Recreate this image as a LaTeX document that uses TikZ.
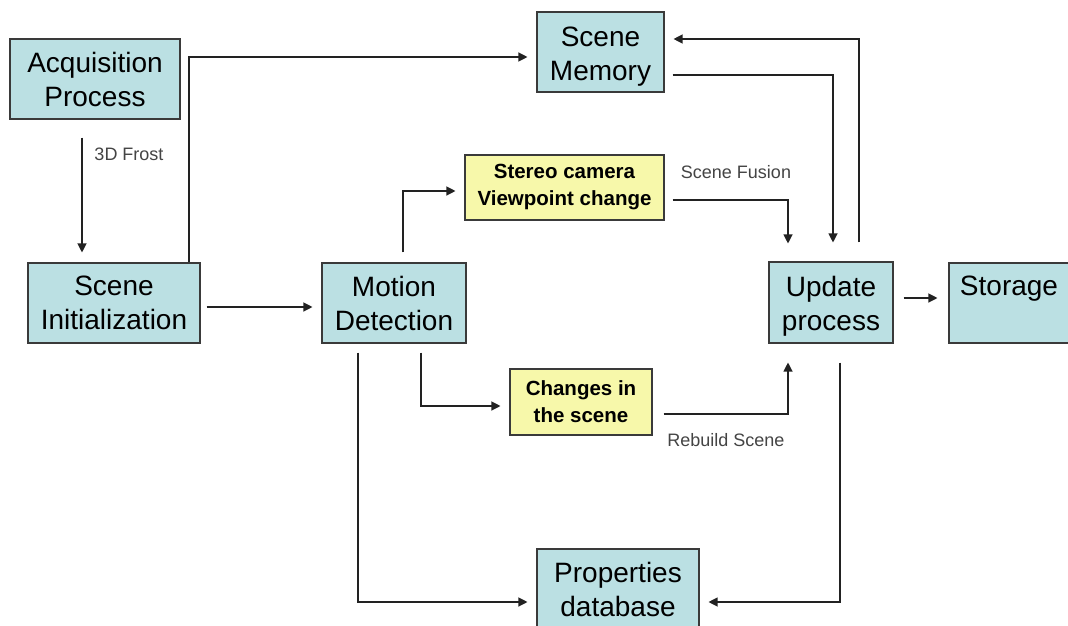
\documentclass[tikz,border=0pt]{standalone}
\usepackage{fontspec}
\setmainfont{Liberation Sans}
\usetikzlibrary{arrows.meta,calc}
\definecolor{boxblue}{HTML}{BBE0E3}
\definecolor{boxyellow}{HTML}{F7F8AA}
\definecolor{edgegray}{HTML}{3A3A3A}
\definecolor{linegray}{HTML}{222222}
\definecolor{labelgray}{HTML}{444444}
\tikzset{
  procbox/.style={draw=edgegray, fill=boxblue, line width=1.1pt, inner sep=0pt,
    align=center, font=\fontsize{28}{34}\selectfont},
  notebox/.style={draw=edgegray, fill=boxyellow, line width=1.1pt, inner sep=0pt,
    align=center, font=\bfseries\fontsize{20.5}{27}\selectfont},
  flowlabel/.style={text=labelgray, inner sep=0pt, font=\fontsize{18}{22}\selectfont},
  arr/.style={draw=linegray, line width=1.2pt, -{Triangle[length=9pt,width=9pt]}},
  lowtext/.style={text height=62pt}
}
\begin{document}
\begin{tikzpicture}[x=1pt,y=-1pt]
\useasboundingbox (0,0) rectangle (1068,626);
\fill[white] (0,0) rectangle (1068,626);

% process boxes
\node[procbox, minimum width=170pt, minimum height=80pt] (acq) at (95,79) {Acquisition\\Process};
\node[procbox, minimum width=172pt, minimum height=80pt] (init) at (114,303) {Scene\\Initialization};
\node[procbox, minimum width=144pt, minimum height=80pt] (motion) at (394,303) {Motion\\Detection};
\node[procbox, lowtext, minimum width=127pt, minimum height=80pt] (mem) at (600.5,52) {Scene\\Memory};
\node[procbox, lowtext, minimum width=124pt, minimum height=81pt] (update) at (831,302.5) {Update\\process};
\node[procbox, minimum width=120pt, minimum height=80pt] (storage) at (1009,303) {Storage\\\mbox{}};
\node[procbox, minimum width=162pt, minimum height=80pt] (props) at (618,589) {Properties\\database};

% event boxes
\node[notebox, minimum width=199pt, minimum height=65pt] (stereo) at (564.5,187.5) {Stereo camera\\Viewpoint change};
\node[notebox, minimum width=142pt, minimum height=66pt] (changes) at (581,402) {Changes in\\the scene};

% labels
\node[flowlabel] (lfrost) at (129,154) {3D Frost};
\node[flowlabel] (lfusion) at (736,172) {Scene Fusion};
\node[flowlabel] (lrebuild) at (726,440) {Rebuild Scene};

% connectors
\draw[arr, shorten <=18pt, shorten >=10pt] ([xshift=-13pt]acq.south) -- ([xshift=-13pt]acq.south |- init.north);
\draw[arr, shorten >=9pt] ([xshift=75pt]init.north) |- ([yshift=-5pt]mem.west);
\draw[arr, shorten <=6pt, shorten >=9pt] ([yshift=-4pt]init.east) -- ([yshift=-4pt]motion.west);
\draw[arr, shorten <=10pt, shorten >=9pt] ([xshift=9pt]motion.north) |- ([yshift=-3.5pt]stereo.west);
\draw[arr, shorten <=8pt, shorten >=18pt] ([yshift=-12.5pt]stereo.east) -| ([xshift=-43pt]update.north);
\draw[arr, shorten <=9pt, shorten >=9pt] ([xshift=27pt]motion.south) |- ([yshift=-4pt]changes.west);
\draw[arr, shorten <=11pt, shorten >=19pt] ([yshift=-12pt]changes.east) -| ([xshift=-43pt]update.south);
\draw[arr, shorten <=8pt, shorten >=19pt] ([yshift=-23pt]mem.east) -| ([xshift=2pt]update.north);
\draw[arr, shorten <=19pt, shorten >=9pt] ([xshift=28pt]update.north) |- ([yshift=13pt]mem.east);
\draw[arr, shorten <=10pt, shorten >=11pt] ([yshift=4.5pt]update.east) -- ([yshift=4.5pt]update.east -| storage.west);
\draw[arr, shorten <=9pt, shorten >=9pt] ([xshift=-36pt]motion.south) |- ([yshift=-13pt]props.west);
\draw[arr, shorten <=19pt, shorten >=9pt] ([xshift=9pt]update.south) |- ([yshift=-13pt]props.east);
\end{tikzpicture}
\end{document}
